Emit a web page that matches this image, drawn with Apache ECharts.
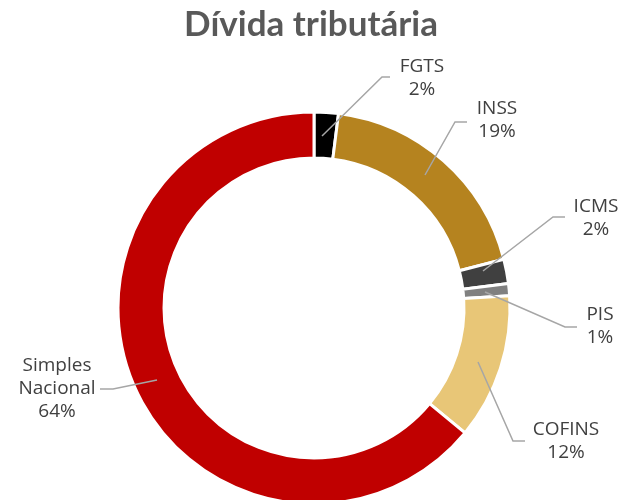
<!DOCTYPE html>
<html>
<head>
<meta charset="utf-8">
<script src="https://cdn.jsdelivr.net/npm/echarts@6/dist/echarts.min.js"></script>
<style>
html,body{margin:0;padding:0;background:#fff;}
#chart{width:622px;height:500px;}
</style>
</head>
<body>
<div id="chart"></div>
<script>
var categories = ["FGTS", "INSS", "ICMS", "PIS", "COFINS", "Simples\nNacional"];
var values = [2, 19, 2, 1, 12, 64];
var colorList = ["#000000", "#B5831F", "#404040", "#808080", "#E8C677", "#C00000"];
// label text centres and leader line corners (layout only)
var labelPos = [[422, 78], [497, 120], [596, 218], [600, 326], [566, 441], [57, 389]];
var linePts = [
	[[322, 136], [382, 77], [390, 77]],
	[[425, 175], [455, 122], [467, 122]],
	[[483, 271], [553, 217], [565, 217]],
	[[485, 292], [565, 327], [577, 327]],
	[[478, 362], [513, 441], [525, 441]],
	[[157, 380], [113, 389], [100, 389]]
];

var myChart = echarts.init(document.getElementById("chart"));
var pieData = [],
	labelData = [];
for(var i = 0; i < categories.length; i++) {
	pieData.push({
		name: categories[i],
		value: values[i],
		itemStyle: { color: colorList[i] }
	})
	labelData.push({
		name: categories[i],
		value: values[i]
	})
}
var option = {
	animation: false,
	title: {
		text: "Dívida tributária",
		left: "center",
		top: 2,
		textStyle: {
			fontFamily: "Lato",
			fontSize: 35,
			fontWeight: "bold",
			color: "#595959"
		}
	},
	series: [{
		type: "pie",
		z: 2,
		center: [314, 308],
		radius: [150, 196],
		startAngle: 90,
		clockwise: true,
		silent: true,
		itemStyle: {
			borderColor: "#ffffff",
			borderWidth: 3
		},
		label: { show: false },
		labelLine: { show: false },
		data: pieData
	}, {
		// transparent copy so that leader lines sit on top of the ring
		type: "pie",
		z: 5,
		center: [314, 308],
		radius: [150, 196],
		startAngle: 90,
		clockwise: true,
		silent: true,
		avoidLabelOverlap: false,
		itemStyle: { color: "rgba(0,0,0,0)", borderWidth: 0 },
		label: {
			show: true,
			position: "outside",
			formatter: function(p) { return p.name + "\n" + p.value + "%"; },
			fontFamily: "Open Sans",
			fontSize: 19,
			lineHeight: 23,
			color: "#404040",
			align: "center"
		},
		labelLine: {
			show: true,
			lineStyle: { color: "#A6A6A6", width: 1.5 }
		},
		labelLayout: function(params) {
			var k = params.dataIndex;
			return {
				x: labelPos[k][0],
				y: labelPos[k][1],
				align: "center",
				verticalAlign: "middle",
				labelLinePoints: linePts[k]
			};
		},
		data: labelData
	}]
};
myChart.setOption(option);
</script>
</body>
</html>
